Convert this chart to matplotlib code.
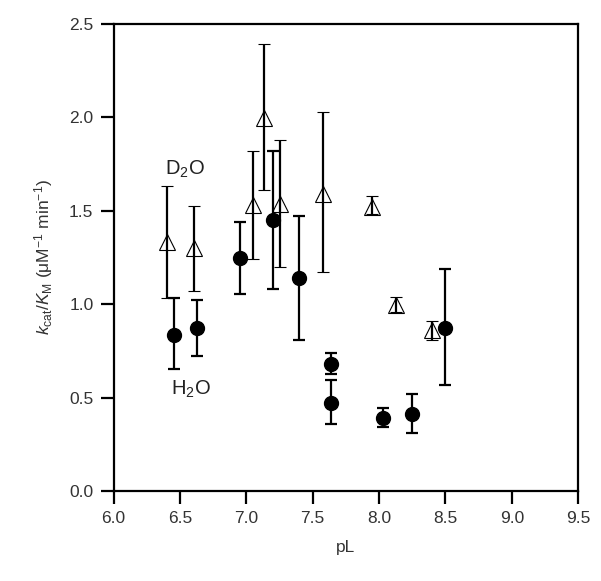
import numpy as np
import matplotlib.pyplot as plt

plt.rcParams['font.family'] = ['Liberation Sans', 'DejaVu Sans']
plt.rcParams['mathtext.fontset'] = 'custom'
plt.rcParams['mathtext.rm'] = 'Liberation Sans'
plt.rcParams['mathtext.it'] = 'Liberation Sans:italic'

# H2O data (filled circles)
h2o_pl = [6.455, 6.625, 6.955, 7.20, 7.40, 7.64, 7.64, 8.03, 8.25, 8.50]
h2o_k = [0.835, 0.874, 1.245, 1.45, 1.14, 0.68, 0.473, 0.392, 0.412, 0.874]
h2o_lo = [0.65, 0.72, 1.055, 1.08, 0.81, 0.625, 0.357, 0.341, 0.309, 0.567]
h2o_hi = [1.03, 1.02, 1.44, 1.82, 1.47, 0.74, 0.594, 0.446, 0.52, 1.19]

# D2O data (open triangles)
d2o_pl = [6.40, 6.605, 7.05, 7.13, 7.25, 7.58, 7.95, 8.13, 8.40]
d2o_k = [1.33, 1.30, 1.53, 1.995, 1.536, 1.59, 1.52, 0.995, 0.86]
d2o_lo = [1.03, 1.07, 1.24, 1.61, 1.20, 1.17, 1.48, 0.96, 0.81]
d2o_hi = [1.63, 1.527, 1.82, 2.39, 1.88, 2.03, 1.58, 1.04, 0.91]

h2o_k = np.array(h2o_k)
d2o_k = np.array(d2o_k)
h2o_err = [h2o_k - np.array(h2o_lo), np.array(h2o_hi) - h2o_k]
d2o_err = [d2o_k - np.array(d2o_lo), np.array(d2o_hi) - d2o_k]

fig = plt.figure(figsize=(6.01, 5.81), dpi=100)
ax = fig.add_axes([0.189, 0.155, 0.773, 0.804])

ax.errorbar(d2o_pl, d2o_k, yerr=d2o_err, fmt='^', ms=11, mfc='none', mec='black',
            mew=0.8, ecolor='black', elinewidth=1.6, capsize=4, capthick=1.6, zorder=2)
ax.errorbar(h2o_pl, h2o_k, yerr=h2o_err, fmt='o', ms=10, mfc='black', mec='black',
            ecolor='black', elinewidth=1.6, capsize=4, capthick=1.6, zorder=3)

ax.text(6.54, 1.72, 'D$_2$O', fontsize=14.5, ha='center', va='center', color='#222222')
ax.text(6.585, 0.545, 'H$_2$O', fontsize=14.5, ha='center', va='center', color='#222222')

ax.set_xlim(6.0, 9.5)
ax.set_ylim(0.0, 2.5)
ax.set_xticks(np.arange(6.0, 9.51, 0.5))
ax.set_yticks(np.arange(0.0, 2.51, 0.5))
ax.xaxis.set_major_formatter(plt.FormatStrFormatter('%.1f'))
ax.yaxis.set_major_formatter(plt.FormatStrFormatter('%.1f'))
ax.tick_params(direction='out', length=9.5, width=1.6, labelsize=12.5, colors='black',
               labelcolor='#333333', pad=5)
for s in ax.spines.values():
    s.set_linewidth(1.6)

ax.set_xlabel('pL', fontsize=12.5, color='#333333', labelpad=10)
ax.set_ylabel(r'$k_{\mathrm{cat}}/K_{\mathrm{M}}$ (μM$^{-1}$ min$^{-1}$)', fontsize=12.5,
              color='#333333', labelpad=10)

fig.savefig('out.png', dpi=100)
